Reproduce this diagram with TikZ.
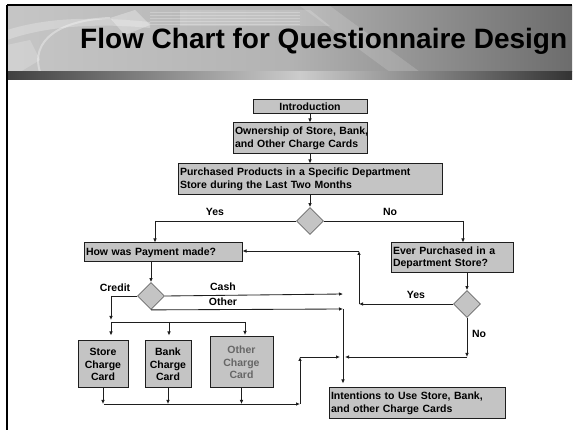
\documentclass[tikz,border=0pt]{standalone}
\usepackage{fontspec}
\setmainfont{Liberation Sans}[BoldFont={Liberation Sans Bold}]
\usetikzlibrary{arrows.meta,shapes.geometric,calc}
\definecolor{boxgray}{HTML}{C4C4C4}
\definecolor{linegray}{HTML}{1E1E1E}
\definecolor{dgray}{HTML}{6A6A6A}
\tikzset{
  x=1pt,y=-1pt,
  every node/.style={font=\bfseries\fontsize{10.5}{12.5}\selectfont},
  flowbox/.style={draw=linegray,fill=boxgray,line width=1pt,inner sep=2pt,align=left},
  decide/.style={diamond,aspect=1,draw=dgray,fill=boxgray,line width=0.8pt,minimum width=27pt,minimum height=27pt,inner sep=0pt},
  lbl/.style={inner sep=1pt},
  conn/.style={draw=linegray,line width=0.85pt},
  arr/.style={conn,-{Latex[length=4pt,width=3.6pt]}}
}
\begin{document}
\begin{tikzpicture}
\useasboundingbox (0,0) rectangle (574,430);
\fill[white] (0,0) rectangle (574,430);
% header band
\shade[left color=gray!45,right color=gray!85!black!100,middle color=gray!60] (7,6) rectangle (572,72);
\fill[white,opacity=0.25] (7,30) .. controls (40,20) and (80,15) .. (150,22) -- (150,28) .. controls (90,22) and (40,28) .. (7,40) -- cycle;
\fill[white,opacity=0.2] (7,45) -- (30,40) -- (40,60) -- (20,72) -- (7,72) -- cycle;
\fill[white,opacity=0.3] (110,18) -- (135,10) -- (150,25) -- (125,35) -- cycle;
\draw[white,opacity=0.35,line width=2pt] (40,72) .. controls (30,40) and (60,20) .. (110,18);
\fill[white,opacity=0.18] (180,10) -- (310,10) -- (330,26) -- (180,26) -- cycle;
\foreach \yy in {12,15,18,21,24}{\draw[white,opacity=0.25,line width=0.6pt] (150,\yy) -- (300,\yy);}
\fill[white,opacity=0.15] (300,6) -- (330,6) -- (420,72) -- (390,72) -- cycle;
\shade[left color=black!75,right color=gray!40] (7,72) rectangle (300,80);
\shade[left color=gray!40,right color=black!80] (300,72) rectangle (572,80);
\draw[black,line width=1.5pt] (7,5) -- (572,5);
\draw[black,line width=1.5pt] (7,5) -- (7,430);
\node[font=\bfseries\fontsize{28}{30}\selectfont,inner sep=0pt,anchor=west] (title) at (80,41) {Flow Chart for Questionnaire Design};

% boxes
\node[flowbox,minimum width=114pt,minimum height=14pt,inner sep=0pt,align=center] (intro) at (310,107) {Introduction};
\node[flowbox,text width=130pt,minimum height=31pt] (own) at (300,138.5) {\mbox{Ownership of Store, Bank,}\\\mbox{and Other Charge Cards}};
\node[flowbox,text width=260pt,minimum height=31pt] (purch) at (310,179.5) {Purchased Products in a Specific Department\\Store during the Last Two Months};
\node[decide] (d1) at (310,221) {};
\node[flowbox,text width=154pt,minimum height=19pt] (how) at (163,252.5) {How was Payment made?};
\node[flowbox,text width=118pt,minimum height=30pt] (ever) at (452,258) {Ever Purchased in a\\Department Store?};
\node[decide] (d2) at (467,304) {};
\node[decide] (d3) at (151,296) {};
\node[flowbox,minimum width=50pt,minimum height=47pt,inner sep=0pt,align=center] (store) at (103,364.5) {Store\\Charge\\Card};
\node[flowbox,minimum width=46pt,minimum height=47pt,inner sep=0pt,align=center] (bank) at (168,364.5) {Bank\\Charge\\Card};
\node[flowbox,minimum width=63pt,minimum height=51pt,inner sep=0pt,align=center,text=black!60] (other) at (241.5,362.5) {Other\\Charge\\Card};
\node[flowbox,text width=172pt,minimum height=31pt] (intent) at (417,403.5) {Intentions to Use Store, Bank,\\and other Charge Cards};

% coordinates
\coordinate (yesL) at (155,221);
\coordinate (noR) at (463,221);
\coordinate (yesB) at (359,304);
\coordinate (yesT) at (359,251);
\coordinate (noC) at (467,357);
\coordinate (jR) at (345,357);
\coordinate (credL) at (111,296);
\coordinate (credB) at (111,320);
\coordinate (busA) at (111,322);
\coordinate (busB) at (169,322);
\coordinate (busC) at (245,322);
\coordinate (cashE) at (343,294);
\coordinate (otherE) at (343,309);
\coordinate (botL) at (104,404);
\coordinate (botR) at (300,404);
\coordinate (botT) at (300,357);
\coordinate (jL) at (340,357);

% connectors
\draw[arr] (intro.south) -- (intro.south |- own.north);
\draw[arr] (intro.south |- own.south) -- (intro.south |- purch.north);
\draw[arr] (purch.south) -- (d1.north);
\draw[conn] (d1.west) -- (yesL);
\draw[arr] (yesL) -- (yesL |- how.north);
\draw[conn] (d1.east) -- (noR);
\draw[arr] (noR) -- (noR |- ever.north);
\node[lbl] (yes1) at (215,212) {Yes};
\node[lbl] (no1) at (390,212) {No};
\draw[arr] (d3.north |- how.south) -- (d3.north);
\draw[arr] (d2.north |- ever.south) -- (d2.north);
\draw[arr] (d2.west) -- (yesB);
\draw[arr] (yesB) -- (yesT);
\draw[arr] (yesT) -- (yesT -| how.east);
\node[lbl] (yes2) at (416,295) {Yes};
\draw[arr] (d2.south) -- (noC);
\node[lbl] (no2) at (479,334) {No};
\draw[arr] (noC) -- (jR);
\draw[conn] (d3.west) -- (credL);
\draw[arr] (credL) -- (credB);
\node[lbl] (credit) at (115,288) {Credit};
\draw[conn] (busA) -- (busC);
\draw[arr,shorten >=5pt] (busA) -- (busA |- store.north);
\draw[arr,shorten >=5pt] (busB) -- (busB |- bank.north);
\draw[arr,shorten >=1.5pt] (busC) -- (busC |- other.north);
\draw[arr] (d3.east) -- (cashE);
\node[lbl] (cash) at (223,287) {Cash};
\draw[arr] (d3.south) -- (otherE);
\node[lbl] (otherl) at (223,302) {Other};
\draw[arr,shorten >=4pt] (otherE) -- (otherE |- intent.north);
\draw[arr] (store.south) -- (store.south |- botL);
\draw[arr] (bank.south) -- (bank.south |- botL);
\draw[arr] (other.south) -- (other.south |- botL);
\draw[arr] (botL) -- (botR);
\draw[arr] (botR) -- (botT);
\draw[arr] (botT) -- (jL);
\end{tikzpicture}
\end{document}
